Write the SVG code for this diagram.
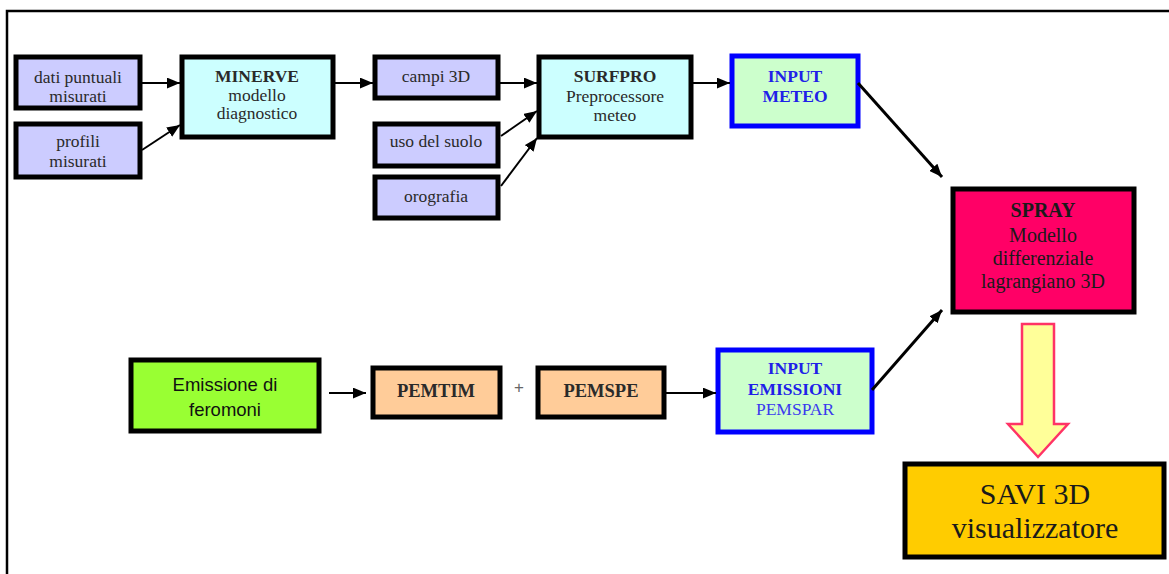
<svg xmlns="http://www.w3.org/2000/svg" width="1169" height="574" viewBox="0 0 1169 574">
  <style>
    .box { stroke: #000; stroke-width: 5; }
    .lav { fill: #ccccff; }
    .cyan { fill: #ccffff; }
    .inp { fill: #ccffcc; stroke: #0000ff; stroke-width: 5; }
    .peach { fill: #ffcc99; }
    text { font-family: 'Liberation Serif', 'Times New Roman', serif; text-anchor: middle; fill: #2a2a2a; font-size: 17.5px; }
    .b { font-weight: bold; }
    .blue { fill: #2020e8; }
    .lblue { fill: #3a3aee; }
    .f17 { font-size: 17.5px; }
    .f18 { font-size: 18.5px; }
    .f20 { font-size: 20px; fill: #1a1a1a; }
    .f30 { font-size: 30px; fill: #1a1a1a; }
    .sans { font-family: 'Liberation Sans', Arial, sans-serif; font-size: 18.5px; fill: #111; }
    .plus { font-family: 'Liberation Sans', Arial, sans-serif; font-size: 17px; fill: #666; }
    .conn { stroke: #000; stroke-width: 2; fill: none; marker-end: url(#ah); }
    .thick { stroke-width: 3; }
  </style>
  <defs>
    <marker id="ah" viewBox="0 0 12 10" refX="12" refY="5" markerWidth="13" markerHeight="11" markerUnits="userSpaceOnUse" orient="auto">
      <path d="M0,0 L12,5 L0,10 z" fill="#000"/>
    </marker>
  </defs>

  <rect width="1169" height="574" fill="#fff"/>
  <!-- frame -->
  <path d="M7,574 V11 H1169" fill="none" stroke="#000" stroke-width="2.5"/>

  <g id="dati">
    <rect class="box lav" x="16" y="57" width="124" height="51"/>
    <text x="78" y="83">dati puntuali</text>
    <text x="78" y="102">misurati</text>
  </g>
  <g id="profili">
    <rect class="box lav" x="16" y="124" width="124" height="53"/>
    <text x="78" y="147">profili</text>
    <text x="78" y="167">misurati</text>
  </g>
  <g id="minerve">
    <rect class="box cyan" x="182" y="57" width="151" height="80"/>
    <text class="b" x="257" y="82">MINERVE</text>
    <text x="257" y="101">modello</text>
    <text x="257" y="119">diagnostico</text>
  </g>
  <g id="campi">
    <rect class="box lav" x="375" y="57" width="123" height="41"/>
    <text x="436" y="82">campi 3D</text>
  </g>
  <g id="uso">
    <rect class="box lav" x="375" y="124" width="123" height="42"/>
    <text x="436" y="147">uso del suolo</text>
  </g>
  <g id="orografia">
    <rect class="box lav" x="375" y="177" width="123" height="41"/>
    <text x="436" y="202">orografia</text>
  </g>
  <g id="surfpro">
    <rect class="box cyan" x="539" y="57" width="152" height="80"/>
    <text class="b" x="615" y="82">SURFPRO</text>
    <text x="615" y="102">Preprocessore</text>
    <text x="615" y="121">meteo</text>
  </g>
  <g id="input-meteo">
    <rect class="inp" x="732" y="56" width="126" height="70"/>
    <text class="b blue" x="795" y="82">INPUT</text>
    <text class="b blue" x="795" y="102">METEO</text>
  </g>
  <g id="spray">
    <rect class="box" fill="#ff0066" x="953" y="189" width="181" height="123"/>
    <text class="b f20" x="1043" y="217">SPRAY</text>
    <text class="f20" x="1043" y="242">Modello</text>
    <text class="f20" x="1043" y="265">differenziale</text>
    <text class="f20" x="1043" y="288">lagrangiano 3D</text>
  </g>
  <g id="emissione">
    <rect class="box" fill="#99ff33" x="131" y="360" width="188" height="71"/>
    <text class="sans" x="225" y="391">Emissione di</text>
    <text class="sans" x="225" y="416">feromoni</text>
  </g>
  <g id="pemtim">
    <rect class="box peach" x="373" y="368" width="127" height="49"/>
    <text class="b f18" x="436" y="397">PEMTIM</text>
  </g>
  <text class="plus" x="519" y="393">+</text>
  <g id="pemspe">
    <rect class="box peach" x="538" y="368" width="126" height="49"/>
    <text class="b f18" x="601" y="397">PEMSPE</text>
  </g>
  <g id="input-emissioni">
    <rect class="inp" x="718" y="350" width="154" height="82"/>
    <text class="b blue f17" x="795" y="374">INPUT</text>
    <text class="b blue f17" x="795" y="395">EMISSIONI</text>
    <text class="lblue f17" x="795" y="415">PEMSPAR</text>
  </g>
  <g id="savi">
    <rect class="box" fill="#ffcc00" x="905" y="464" width="259" height="93"/>
    <text class="f30" x="1035" y="504">SAVI 3D</text>
    <text class="f30" x="1035" y="538">visualizzatore</text>
  </g>

  <g id="connectors">
    <line class="conn" x1="140" y1="83" x2="180" y2="83"/>
    <line class="conn" x1="142" y1="150" x2="180" y2="125"/>
    <line class="conn" x1="335" y1="83" x2="373" y2="83"/>
    <line class="conn" x1="500" y1="83" x2="537" y2="83"/>
    <line class="conn" x1="501" y1="136" x2="537" y2="111"/>
    <line class="conn" x1="501" y1="186" x2="537" y2="138"/>
    <line class="conn" x1="693" y1="83" x2="730" y2="83"/>
    <line class="conn thick" x1="858" y1="83" x2="942" y2="177"/>
    <line class="conn" x1="329" y1="393" x2="366" y2="393"/>
    <line class="conn" x1="666" y1="393" x2="716" y2="393"/>
    <line class="conn thick" x1="872" y1="390" x2="942" y2="310"/>
    <!-- block arrow from SPRAY down to SAVI -->
    <path d="M1022,324 H1054 V424 H1068 L1038,457 L1008,424 H1022 Z" fill="#ffff99" stroke="#ff3366" stroke-width="2.5"/>
  </g>
</svg>
